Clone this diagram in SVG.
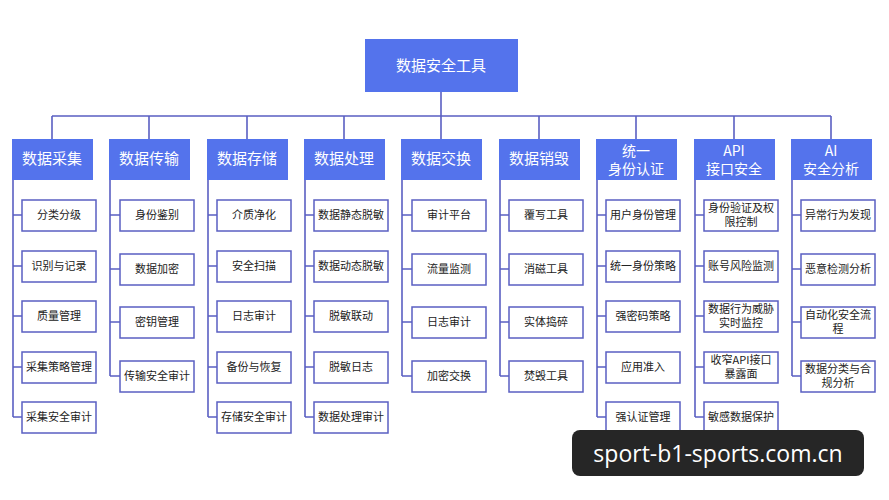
<svg xmlns="http://www.w3.org/2000/svg" width="889" height="500" viewBox="0 0 889 500">
<style>
.h{fill:#5473ec}
.ht{fill:#fff;font-family:"Noto Sans CJK SC","Liberation Sans",sans-serif;font-size:15px;text-anchor:middle}
.ht2{fill:#fff;font-family:"Noto Sans CJK SC","Liberation Sans",sans-serif;font-size:14px;text-anchor:middle}
.b{fill:#fff;stroke:#5a5fc2;stroke-width:1.5}
.bt{fill:#222;font-family:"Noto Sans CJK SC",sans-serif;font-size:11px;text-anchor:middle}
.c{stroke:#5a5fc2;stroke-width:1.6;fill:none}
</style>
<rect width="889" height="500" fill="#fff"/>
<g id="connectors" class="c">
<path d="M441 92V116M52 116H831M52 116V139M149 116V139M247 116V139M344 116V139M441 116V139M539 116V139M636 116V139M734 116V139M831 116V139"/>
<path d="M13 180V417M13 215H22M13 266H22M13 316H22M13 367H22M13 417H22"/>
<path d="M110 180V376M110 215H120M110 269H120M110 322H120M110 376H120"/>
<path d="M208 180V417M208 215H217M208 266H217M208 316H217M208 367H217M208 417H217"/>
<path d="M305 180V417M305 215H314M305 266H314M305 316H314M305 367H314M305 417H314"/>
<path d="M402 180V376M402 215H412M402 269H412M402 322H412M402 376H412"/>
<path d="M500 180V376M500 215H509M500 269H509M500 322H509M500 376H509"/>
<path d="M597 180V417M597 215H606M597 266H606M597 316H606M597 367H606M597 417H606"/>
<path d="M695 180V417M695 215H704M695 266H704M695 316H704M695 367H704M695 417H704"/>
<path d="M792 180V376M792 215H801M792 269H801M792 322H801M792 376H801"/>
</g>
<g id="root"><rect x="365" y="39" width="153" height="53" class="h"/><text x="441" y="71" class="ht" font-size="16">数据安全工具</text></g>
<g id="c1"><rect x="12" y="139" width="81" height="41" class="h"/><text x="52" y="164" class="ht">数据采集</text>
<rect x="22" y="200" width="74" height="31" class="b"/><text x="59" y="219" class="bt">分类分级</text>
<rect x="22" y="251" width="74" height="31" class="b"/><text x="59" y="270" class="bt">识别与记录</text>
<rect x="22" y="301" width="74" height="31" class="b"/><text x="59" y="320" class="bt">质量管理</text>
<rect x="22" y="352" width="74" height="31" class="b"/><text x="59" y="371" class="bt">采集策略管理</text>
<rect x="22" y="402" width="74" height="31" class="b"/><text x="59" y="421" class="bt">采集安全审计</text></g>
<g id="c2"><rect x="109" y="139" width="81" height="41" class="h"/><text x="149" y="164" class="ht">数据传输</text>
<rect x="120" y="200" width="74" height="31" class="b"/><text x="157" y="219" class="bt">身份鉴别</text>
<rect x="120" y="254" width="74" height="31" class="b"/><text x="157" y="273" class="bt">数据加密</text>
<rect x="120" y="307" width="74" height="31" class="b"/><text x="157" y="326" class="bt">密钥管理</text>
<rect x="120" y="361" width="74" height="31" class="b"/><text x="157" y="380" class="bt">传输安全审计</text></g>
<g id="c3"><rect x="207" y="139" width="81" height="41" class="h"/><text x="247" y="164" class="ht">数据存储</text>
<rect x="217" y="200" width="74" height="31" class="b"/><text x="254" y="219" class="bt">介质净化</text>
<rect x="217" y="251" width="74" height="31" class="b"/><text x="254" y="270" class="bt">安全扫描</text>
<rect x="217" y="301" width="74" height="31" class="b"/><text x="254" y="320" class="bt">日志审计</text>
<rect x="217" y="352" width="74" height="31" class="b"/><text x="254" y="371" class="bt">备份与恢复</text>
<rect x="217" y="402" width="74" height="31" class="b"/><text x="254" y="421" class="bt">存储安全审计</text></g>
<g id="c4"><rect x="304" y="139" width="81" height="41" class="h"/><text x="344" y="164" class="ht">数据处理</text>
<rect x="314" y="200" width="74" height="31" class="b"/><text x="351" y="219" class="bt">数据静态脱敏</text>
<rect x="314" y="251" width="74" height="31" class="b"/><text x="351" y="270" class="bt">数据动态脱敏</text>
<rect x="314" y="301" width="74" height="31" class="b"/><text x="351" y="320" class="bt">脱敏联动</text>
<rect x="314" y="352" width="74" height="31" class="b"/><text x="351" y="371" class="bt">脱敏日志</text>
<rect x="314" y="402" width="74" height="31" class="b"/><text x="351" y="421" class="bt">数据处理审计</text></g>
<g id="c5"><rect x="401" y="139" width="81" height="41" class="h"/><text x="441" y="164" class="ht">数据交换</text>
<rect x="412" y="200" width="74" height="31" class="b"/><text x="449" y="219" class="bt">审计平台</text>
<rect x="412" y="254" width="74" height="31" class="b"/><text x="449" y="273" class="bt">流量监测</text>
<rect x="412" y="307" width="74" height="31" class="b"/><text x="449" y="326" class="bt">日志审计</text>
<rect x="412" y="361" width="74" height="31" class="b"/><text x="449" y="380" class="bt">加密交换</text></g>
<g id="c6"><rect x="499" y="139" width="81" height="41" class="h"/><text x="539" y="164" class="ht">数据销毁</text>
<rect x="509" y="200" width="74" height="31" class="b"/><text x="546" y="219" class="bt">覆写工具</text>
<rect x="509" y="254" width="74" height="31" class="b"/><text x="546" y="273" class="bt">消磁工具</text>
<rect x="509" y="307" width="74" height="31" class="b"/><text x="546" y="326" class="bt">实体捣碎</text>
<rect x="509" y="361" width="74" height="31" class="b"/><text x="546" y="380" class="bt">焚毁工具</text></g>
<g id="c7"><rect x="596" y="139" width="81" height="41" class="h"/><text x="636" y="156" class="ht2">统一</text><text x="636" y="174" class="ht2">身份认证</text>
<rect x="606" y="200" width="74" height="31" class="b"/><text x="643" y="219" class="bt">用户身份管理</text>
<rect x="606" y="251" width="74" height="31" class="b"/><text x="643" y="270" class="bt">统一身份策略</text>
<rect x="606" y="301" width="74" height="31" class="b"/><text x="643" y="320" class="bt">强密码策略</text>
<rect x="606" y="352" width="74" height="31" class="b"/><text x="643" y="371" class="bt">应用准入</text>
<rect x="606" y="402" width="74" height="31" class="b"/><text x="643" y="421" class="bt">强认证管理</text></g>
<g id="c8"><rect x="694" y="139" width="81" height="41" class="h"/><text x="734" y="156" class="ht2">API</text><text x="734" y="174" class="ht2">接口安全</text>
<rect x="704" y="200" width="74" height="31" class="b"/><text x="741" y="212" class="bt">身份验证及权</text><text x="741" y="226" class="bt">限控制</text>
<rect x="704" y="251" width="74" height="31" class="b"/><text x="741" y="270" class="bt">账号风险监测</text>
<rect x="704" y="301" width="74" height="31" class="b"/><text x="741" y="313" class="bt">数据行为威胁</text><text x="741" y="327" class="bt">实时监控</text>
<rect x="704" y="352" width="74" height="31" class="b"/><text x="741" y="364" class="bt">收窄API接口</text><text x="741" y="378" class="bt">暴露面</text>
<rect x="704" y="402" width="74" height="31" class="b"/><text x="741" y="421" class="bt">敏感数据保护</text></g>
<g id="c9"><rect x="791" y="139" width="81" height="41" class="h"/><text x="831" y="156" class="ht2">AI</text><text x="831" y="174" class="ht2">安全分析</text>
<rect x="801" y="200" width="74" height="31" class="b"/><text x="838" y="219" class="bt">异常行为发现</text>
<rect x="801" y="254" width="74" height="31" class="b"/><text x="838" y="273" class="bt">恶意检测分析</text>
<rect x="801" y="307" width="74" height="31" class="b"/><text x="838" y="319" class="bt">自动化安全流</text><text x="838" y="333" class="bt">程</text>
<rect x="801" y="361" width="74" height="31" class="b"/><text x="838" y="373" class="bt">数据分类与合</text><text x="838" y="387" class="bt">规分析</text></g>
<g id="watermark"><rect x="572" y="430" width="292" height="46" rx="8" fill="#262626"/><text x="718" y="462" fill="#fff" font-family="'Open Sans','DejaVu Sans',sans-serif" font-size="23" text-anchor="middle">sport-b1-sports.com.cn</text></g>
</svg>
